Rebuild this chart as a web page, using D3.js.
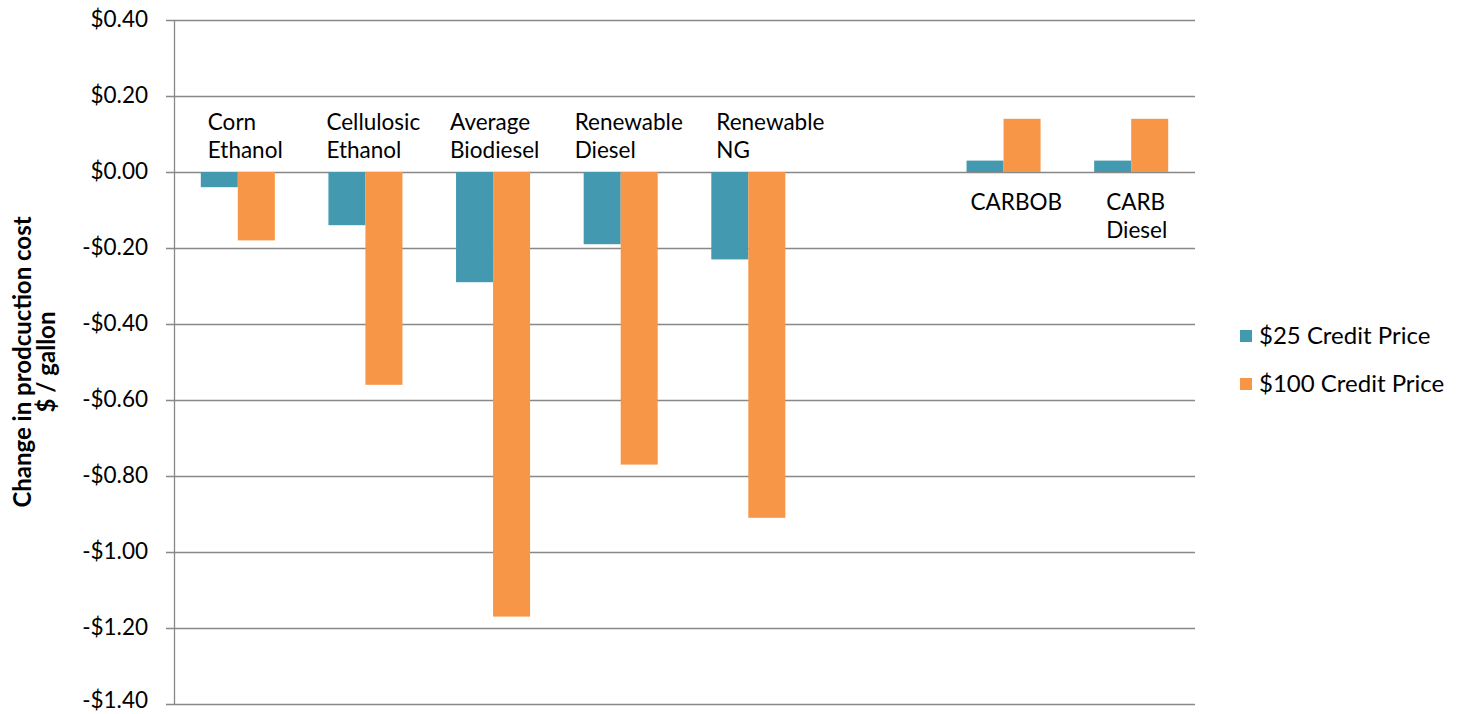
<!DOCTYPE html>
<html>
<head>
<meta charset="utf-8">
<script src="https://cdn.jsdelivr.net/npm/d3@7"></script>
<style>
  body { margin: 0; background: #fff; }
  text { font-family: Lato, "Open Sans", sans-serif; fill: #000; }
</style>
</head>
<body>
<div id="chart"></div>
<script>
// data
const categories = ["Corn Ethanol", "Cellulosic Ethanol", "Average Biodiesel", "Renewable Diesel", "Renewable NG", "", "CARBOB", "CARB Diesel"];
const catLines = [["Corn", "Ethanol"], ["Cellulosic", "Ethanol"], ["Average", "Biodiesel"], ["Renewable", "Diesel"], ["Renewable", "NG"], [], ["CARBOB"], ["CARB", "Diesel"]];
const credit25 = [-0.04, -0.14, -0.29, -0.19, -0.23, null, 0.03, 0.03];
const credit100 = [-0.18, -0.56, -1.17, -0.77, -0.91, null, 0.14, 0.14];
const seriesNames = ["$25 Credit Price", "$100 Credit Price"];
const yTicks = [0.4, 0.2, 0, -0.2, -0.4, -0.6, -0.8, -1.0, -1.2, -1.4];

const colors = ["#4299b0", "#f79646"];
const canvas = { w: 1458, h: 714 };
const margin = { top: 20, right: 263, bottom: 10, left: 174 };

const svg = d3.select("#chart").append("svg")
    .attr("width", canvas.w)
    .attr("height", canvas.h);

const x = d3.scaleBand()
    .domain(d3.range(categories.length))
    .range([margin.left, canvas.w - margin.right])
    .paddingInner(0.42)
    .paddingOuter(0.21);

const x1 = d3.scaleBand()
    .domain([0, 1])
    .range([0, x.bandwidth()]);

const y = d3.scaleLinear()
    .domain([-1.4, 0.4])
    .range([canvas.h - margin.bottom, margin.top]);

const fmt = v => (v < 0 ? "-$" : "$") + Math.abs(v).toFixed(2);

// gridlines
svg.append("g")
    .selectAll("line")
    .data(yTicks)
    .join("line")
    .attr("x1", margin.left - 8)
    .attr("x2", canvas.w - margin.right)
    .attr("y1", d => Math.round(y(d)) + 0.5)
    .attr("y2", d => Math.round(y(d)) + 0.5)
    .attr("stroke", "#888")
    .attr("stroke-width", 1.3);

// y tick labels (bottom one nudged up so it stays inside the frame)
svg.append("g")
    .selectAll("text")
    .data(yTicks)
    .join("text")
    .attr("x", margin.left - 26)
    .attr("y", d => Math.min(y(d), canvas.h - 13))
    .attr("dy", "0.33em")
    .attr("text-anchor", "end")
    .style("font-size", "22.5px")
    .text(fmt);

// bars
const series = [credit25, credit100];
series.forEach((vals, s) => {
    svg.append("g")
        .selectAll("rect")
        .data(vals.map((v, i) => ({ v, i })).filter(d => d.v !== null))
        .join("rect")
        .attr("x", d => x(d.i) + x1(s))
        .attr("width", x1.bandwidth())
        .attr("y", d => y(Math.max(0, d.v)))
        .attr("height", d => Math.abs(y(d.v) - y(0)))
        .attr("fill", colors[s]);
});

// y axis line
svg.append("line")
    .attr("x1", margin.left + 0.5)
    .attr("x2", margin.left + 0.5)
    .attr("y1", y(0.4))
    .attr("y2", y(-1.4))
    .attr("stroke", "#888")
    .attr("stroke-width", 1.3);

// category labels (Excel text boxes, left-ish aligned)
const labelShift = [-30, -39, -43, -46, -32, 0, -33, -25];
const labels = svg.append("g")
    .selectAll("text")
    .data(catLines.map((lines, i) => ({ lines, i })).filter(d => d.lines.length))
    .join("text")
    .attr("x", d => x(d.i) + x.bandwidth() / 2 + labelShift[d.i])
    .attr("y", d => credit100[d.i] < 0 ? y(0) - 42 : y(0) + 38)
    .style("font-size", "22.5px");
labels.selectAll("tspan")
    .data(d => d.lines.map(l => ({ l, x: x(d.i) + x.bandwidth() / 2 + labelShift[d.i] })))
    .join("tspan")
    .attr("x", d => d.x)
    .attr("dy", (d, i) => i ? 28 : 0)
    .text(d => d.l);

// legend
const legend = svg.append("g")
    .selectAll("g")
    .data(seriesNames)
    .join("g")
    .attr("transform", (d, i) => `translate(1240, ${330 + i * 48})`);
legend.append("rect")
    .attr("width", 12)
    .attr("height", 12)
    .attr("fill", (d, i) => colors[i]);
legend.append("text")
    .attr("x", 19)
    .attr("y", 6)
    .attr("dy", "0.35em")
    .style("font-size", "24px")
    .text(d => d);

// y axis title
const yt = svg.append("text")
    .attr("transform", `translate(31, ${(y(0.4) + y(-1.4)) / 2}) rotate(-90)`)
    .attr("text-anchor", "middle")
    .style("font-size", "24px")
    .style("font-weight", "bold");
yt.append("tspan").attr("x", 0).attr("dy", 0).text("Change in prodcuction cost");
yt.append("tspan").attr("x", 0).attr("dy", 24).text("$ / gallon");
</script>
</body>
</html>
